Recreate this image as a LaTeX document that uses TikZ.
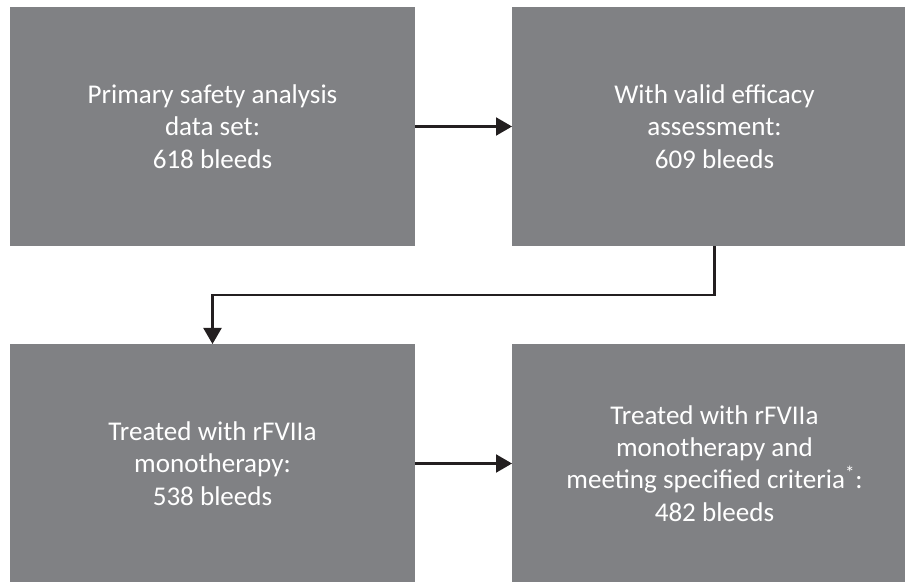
\documentclass[tikz,border=0pt]{standalone}
\usepackage{fontspec}
\setmainfont{Carlito}
\usepackage{tikz}
\usetikzlibrary{calc,positioning,arrows.meta}
\usepackage{xcolor}
\definecolor{boxgray}{HTML}{808184}
\definecolor{fgwhite}{HTML}{FFFFFF}
\definecolor{arrowdark}{HTML}{231F20}

\begin{document}
\begin{tikzpicture}[
      every node/.style={font=\fontsize{15.4}{18.4}\selectfont, text=fgwhite},
      box/.style={
        fill=boxgray,
        minimum width=8.1cm,
        minimum height=4.78cm,
        inner sep=0pt,
        outer sep=0pt,
        align=center
      },
      flow/.style={
        draw=arrowdark,
        line width=1.2pt,
        -{Triangle[length=0.32cm,width=0.36cm]}
      }
    ]
      \useasboundingbox (0,0) rectangle (18.1,-11.64);
      \node[box] (s1) at (4.25,-2.53) {
        Primary safety analysis\\
        data set:\\
        618 bleeds
      };
      \node[box, right=1.94cm of s1] (s2) {
        With valid efficacy\\
        assessment:\\
        609 bleeds
      };
      \node[box, below=1.96cm of s1] (s3) {
        Treated with rFVIIa\\
        monotherapy:\\
        538 bleeds
      };
      \node[box, below=1.96cm of s2] (s4) {
        Treated with rFVIIa\\
        monotherapy and\\
        meeting specified criteria\textsuperscript{*}:\\
        482 bleeds
      };
      \coordinate (mid) at ($(s2.south)!0.5!(s3.north)$);
      \draw[flow] (s1) -- (s2);
      \draw[flow] (s2.south) |- (mid) -| (s3.north);
      \draw[flow] (s3) -- (s4);
    \end{tikzpicture}
\end{document}
